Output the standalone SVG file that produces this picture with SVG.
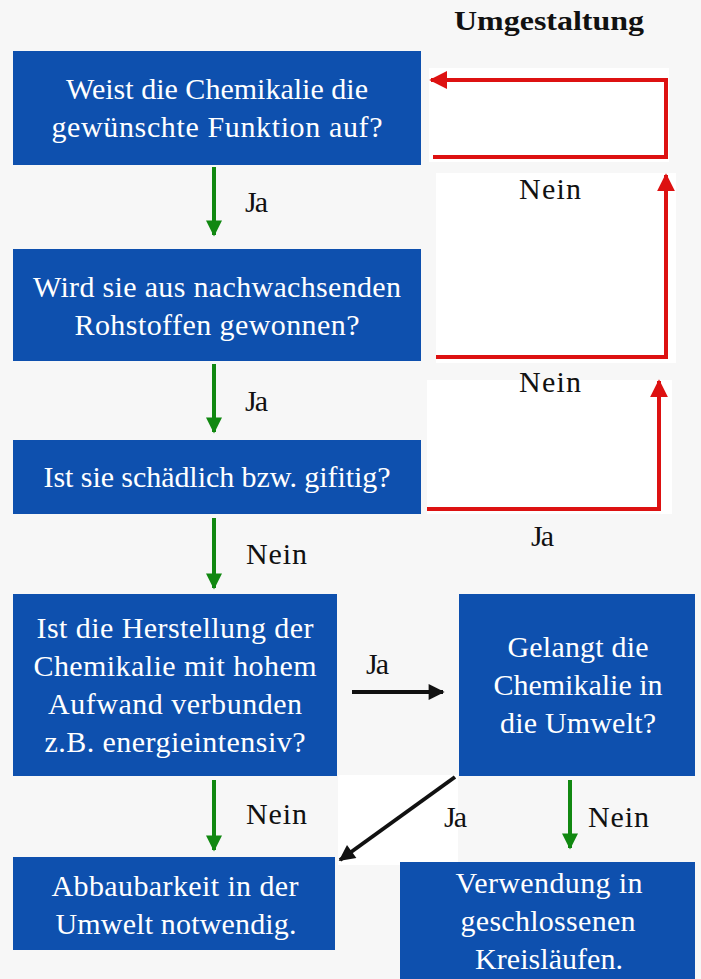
<svg xmlns="http://www.w3.org/2000/svg" width="701" height="979" viewBox="0 0 701 979">
<style>
.box{fill:#0e50ae}
text{font-family:'Liberation Serif','Times New Roman',serif}
.bt{font-size:30px;fill:#fff;text-anchor:middle}
.lb{font-size:30px;fill:#111}
.red{stroke:#dd1111;stroke-width:4;fill:none}
.grn{stroke:#118811;stroke-width:4;fill:none}
.blk{stroke:#111;stroke-width:4;fill:none}
.patch{fill:#fff}
</style>
<defs>
<marker id="ar" viewBox="0 0 10 10" refX="9" refY="5" markerWidth="4.5" markerHeight="4.5" orient="auto" markerUnits="strokeWidth"><path d="M0,0 L10,5 L0,10 z" fill="#dd1111"/></marker>
<marker id="ag" viewBox="0 0 10 10" refX="9" refY="5" markerWidth="4.5" markerHeight="4" orient="auto" markerUnits="strokeWidth"><path d="M0,0 L10,5 L0,10 z" fill="#118811"/></marker>
<marker id="ab" viewBox="0 0 10 10" refX="9" refY="5" markerWidth="4.5" markerHeight="4" orient="auto" markerUnits="strokeWidth"><path d="M0,0 L10,5 L0,10 z" fill="#111"/></marker>
</defs>
<rect width="701" height="979" fill="#f7f7f7"/>
<g id="patches">
<rect class="patch" x="429" y="68" width="240" height="94"/>
<rect class="patch" x="436" y="173" width="240" height="190"/>
<rect class="patch" x="427" y="380" width="245" height="134"/>
<rect class="patch" x="338" y="775" width="120" height="90"/>
</g>
<text x="549" y="30" font-size="27" font-weight="bold" fill="#111" text-anchor="middle" textLength="190" lengthAdjust="spacingAndGlyphs">Umgestaltung</text>
<g id="n1"><rect class="box" x="13" y="51" width="408" height="114"/><text class="bt" x="217" y="99" textLength="302">Weist die Chemikalie die</text><text class="bt" x="217" y="137" textLength="331">gewünschte Funktion auf?</text></g>
<g id="n2"><rect class="box" x="13" y="249" width="408" height="112"/><text class="bt" x="217" y="297" textLength="368">Wird sie aus nachwachsenden</text><text class="bt" x="217" y="335" textLength="285">Rohstoffen gewonnen?</text></g>
<g id="n3"><rect class="box" x="13" y="440" width="408" height="74"/><text class="bt" x="217" y="487" textLength="347">Ist sie schädlich bzw. gifitig?</text></g>
<g id="n4"><rect class="box" x="13" y="594" width="324" height="182"/><text class="bt" x="175" y="638" textLength="277">Ist die Herstellung der</text><text class="bt" x="175" y="676" textLength="283">Chemikalie mit hohem</text><text class="bt" x="175" y="714" textLength="254">Aufwand verbunden</text><text class="bt" x="175" y="752" textLength="261">z.B. energieintensiv?</text></g>
<g id="n5"><rect class="box" x="459" y="594" width="236" height="182"/><text class="bt" x="578" y="657" textLength="141">Gelangt die</text><text class="bt" x="578" y="695" textLength="169">Chemikalie in</text><text class="bt" x="578" y="733" textLength="156">die Umwelt?</text></g>
<g id="n6"><rect class="box" x="13" y="857" width="322" height="93"/><text class="bt" x="175" y="896" textLength="247">Abbaubarkeit in der</text><text class="bt" x="176" y="934" textLength="241">Umwelt notwendig.</text></g>
<g id="n7"><rect class="box" x="400" y="862" width="295" height="117"/><text class="bt" x="549" y="893" textLength="187">Verwendung in</text><text class="bt" x="548" y="931" textLength="175">geschlossenen</text><text class="bt" x="549" y="969" textLength="148">Kreisläufen.</text></g>
<g id="connectors">
<path class="red" d="M433,157 H666 V80 H431" marker-end="url(#ar)"/>
<path class="red" d="M436,357 H666 V175" marker-end="url(#ar)"/>
<path class="red" d="M427,509 H659 V381" marker-end="url(#ar)"/>
<path class="grn" d="M214,167 V235" marker-end="url(#ag)"/>
<path class="grn" d="M214,364 V432" marker-end="url(#ag)"/>
<path class="grn" d="M214,518 V588" marker-end="url(#ag)"/>
<path class="grn" d="M214,780 V850" marker-end="url(#ag)"/>
<path class="grn" d="M570,780 V848" marker-end="url(#ag)"/>
<path class="blk" d="M352,692 H443" marker-end="url(#ab)"/>
<path class="blk" d="M455,777 L340,860" marker-end="url(#ab)"/>
</g>
<g id="labels">
<text class="lb" x="245" y="212" textLength="23">Ja</text>
<text class="lb" x="519" y="199" textLength="62">Nein</text>
<text class="lb" x="245" y="411" textLength="23">Ja</text>
<text class="lb" x="519" y="392" textLength="62">Nein</text>
<text class="lb" x="246" y="564" textLength="61">Nein</text>
<text class="lb" x="531" y="546" textLength="23">Ja</text>
<text class="lb" x="366" y="674" textLength="23">Ja</text>
<text class="lb" x="246" y="824" textLength="61">Nein</text>
<text class="lb" x="444" y="827" textLength="23">Ja</text>
<text class="lb" x="588" y="827" textLength="61">Nein</text>
</g>
</svg>
